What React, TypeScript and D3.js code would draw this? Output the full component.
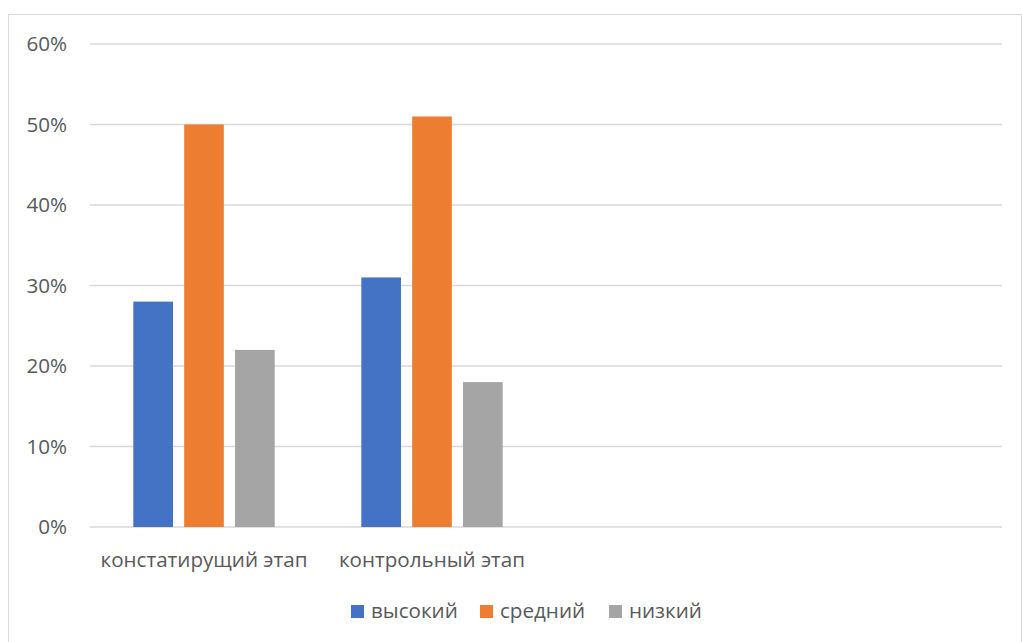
import React from "react";
import * as d3 from "d3";

const categories = ["констатирущий этап", "контрольный этап", "", " "];
const seriesNames = ["высокий", "средний", "низкий"];
const seriesColors = ["#4472C4", "#ED7D31", "#A5A5A5"];
const vysokiy = [0.28, 0.31, null, null];
const sredniy = [0.5, 0.51, null, null];
const nizkiy = [0.22, 0.18, null, null];
const yTicks = [0, 0.1, 0.2, 0.3, 0.4, 0.5, 0.6];

const series = [vysokiy, sredniy, nizkiy];

const W = 1022;
const H = 642;
const plot = { left: 90, right: 1002, top: 44, bottom: 527 };
const FONT = "'Open Sans', 'Noto Sans', sans-serif";
const TEXT = "#595959";
const FS = 20.6;

export default function App() {
  const x = d3
    .scaleBand<string>()
    .domain(categories)
    .range([plot.left, plot.right])
    .paddingInner(0)
    .paddingOuter(0);
  const y = d3.scaleLinear().domain([0, 0.6]).range([plot.bottom, plot.top]);
  const bw = x.bandwidth();
  const groupWidth = bw * 0.62;
  const inner = d3
    .scaleBand<number>()
    .domain(series.map((_, i) => i))
    .range([(bw - groupWidth) / 2, (bw + groupWidth) / 2])
    .paddingInner(0.22)
    .paddingOuter(0);
  const fmt = d3.format(".0%");

  const legendX = [351, 480, 609];

  return (
    <svg
      width={W}
      height={H}
      style={{ position: "absolute", left: 0, top: 0, background: "#fff" }}
    >
      <rect x={8.5} y={14.5} width={1013} height={640} fill="#fff" stroke="#d9d9d9" strokeWidth={1} />
      {yTicks.map((t) => (
        <g key={t}>
          <line
            x1={plot.left}
            x2={plot.right}
            y1={y(t)}
            y2={y(t)}
            stroke="#d9d9d9"
            strokeWidth={1.3}
          />
          <text
            x={67}
            y={y(t)}
            dy="0.35em"
            textAnchor="end"
            fontFamily={FONT}
            fontSize={FS}
            fill={TEXT}
          >
            {fmt(t)}
          </text>
        </g>
      ))}
      {categories.map((c, ci) => (
        <g key={ci}>
          {series.map((s, si) => {
            const v = s[ci];
            if (v == null) return null;
            return (
              <rect
                key={si}
                x={(x(c) as number) + (inner(si) as number)}
                y={y(v)}
                width={inner.bandwidth()}
                height={y(0) - y(v)}
                fill={seriesColors[si]}
              />
            );
          })}
          <text
            x={(x(c) as number) + bw / 2}
            y={567}
            textAnchor="middle"
            fontFamily={FONT}
            fontSize={FS}
            fill={TEXT}
          >
            {c.trim()}
          </text>
        </g>
      ))}
      {seriesNames.map((n, i) => (
        <g key={n}>
          <rect x={legendX[i]} y={605} width={13} height={13} fill={seriesColors[i]} />
          <text
            x={legendX[i] + 20}
            y={611}
            dy="0.35em"
            fontFamily={FONT}
            fontSize={FS}
            fill={TEXT}
          >
            {n}
          </text>
        </g>
      ))}
    </svg>
  );
}
